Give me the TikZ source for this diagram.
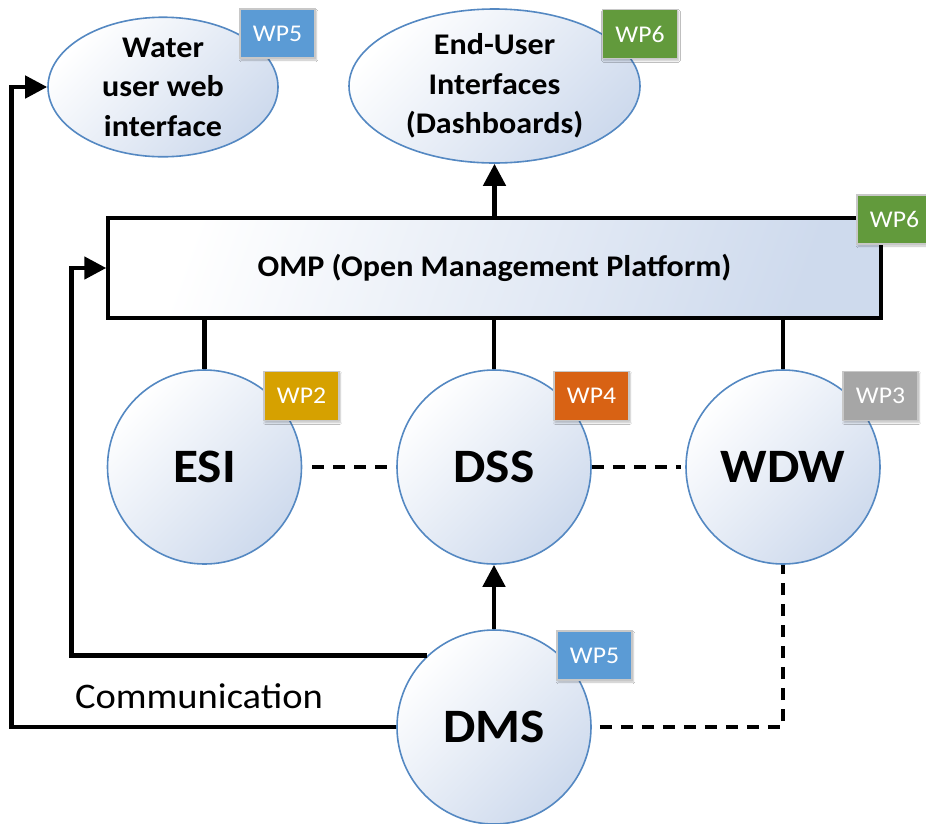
\documentclass[tikz,border=0pt]{standalone}
\usepackage{fontspec}
\setmainfont{Carlito}[FakeStretch=1.07]
\usetikzlibrary{shapes.geometric,arrows.meta,shadows.blur}

\definecolor{edgeblue}{RGB}{84,136,194}
\definecolor{shadeblue}{RGB}{206,218,237}
\definecolor{wpblue}{RGB}{91,155,213}
\definecolor{wpgreen}{RGB}{98,154,60}
\definecolor{wpgold}{RGB}{214,161,0}
\definecolor{wporange}{RGB}{216,98,20}
\definecolor{wpgrey}{RGB}{166,166,166}
\definecolor{wpedge}{RGB}{200,200,200}

\tikzset{
  softfill/.style={top color=white, bottom color=shadeblue, shading angle=45},
  module/.style={circle, draw=edgeblue, line width=1.6pt, softfill,
    minimum size=194pt, inner sep=0pt, font=\fontsize{48}{52}\selectfont\bfseries},
  portal/.style={ellipse, draw=edgeblue, line width=1.6pt, softfill,
    inner sep=0pt, align=center, font=\fontsize{30}{39.5}\selectfont\bfseries},
  platform/.style={rectangle, draw=black, line width=3.4pt,
    top color=white, bottom color=shadeblue, shading angle=70,
    minimum width=773pt, minimum height=100pt, inner sep=0pt,
    font=\fontsize{30}{34}\selectfont\bfseries},
  wptag/.style={rectangle, fill=#1, draw=wpedge, line width=1.8pt,
    minimum width=75pt, minimum height=49pt, inner sep=0pt, text=white,
    font=\fontsize{24}{28}\selectfont,
    blur shadow={shadow xshift=1pt, shadow yshift=-2pt, shadow blur steps=6, shadow opacity=25}},
  link/.style={line width=4.6pt, draw=black},
  flow/.style={link, -{Triangle[length=22pt,width=22pt]}},
  weaklink/.style={line width=4.2pt, draw=black, dash pattern=on 12pt off 9pt},
}

\begin{document}
\begin{tikzpicture}[x=1pt, y=-1pt]
  \clip (0,0) rectangle (926,823);
  \fill[white] (0,0) rectangle (926,823);

  % top-level interfaces
  \node[portal, minimum width=230pt, minimum height=124pt] (water) at (163,87)
    {Water\\user web\\interface};
  \node[portal, minimum width=291pt, minimum height=154pt] (enduser) at (494.5,86)
    {End-User\\Interfaces\\(Dashboards)};

  % platform
  \node[platform] (omp) at (494.5,268) {OMP (Open Management Platform)};

  % modules
  \node[module] (esi) at (204.5,467) {ESI};
  \node[module] (dss) at (494,467) {DSS};
  \node[module] (wdw) at (783,467) {WDW};
  \node[module] (dms) at (494,727) {DMS};

  % connectors
  \draw[flow] (omp.north -| enduser.south) -- (enduser.south);
  \draw[link] (omp.south -| esi.north) -- (esi.north);
  \draw[link] (omp.south -| dss.north) -- (dss.north);
  \draw[link] (omp.south -| wdw.north) -- (wdw.north);

  \draw[weaklink] ([xshift=10pt]esi.east) -- (dss.west);
  \draw[weaklink] (dss.east) -- ([xshift=-4pt]wdw.west);

  \draw[flow] (dms.north) -- (dss.south);
  \draw[flow] (dms.133) -- ++(-356,0) |- (omp.west);
  \draw[flow] (dms.west) -- ++(-385,0) |- (water.west);
  \draw[weaklink] ([xshift=8pt]dms.east) -| (wdw.south);

  \node[font=\fontsize{36}{40}\selectfont, anchor=base] (comm) at (199,708) {Communication};

  % work-package tags
  \node[wptag=wpblue] (tagwater) at (277.5,33.5) {WP5};
  \node[wptag=wpgreen] (tagend) at (640,34) {WP6};
  \node[wptag=wpgreen] (tagomp) at (894.5,219.5) {WP6};
  \node[wptag=wpgold] (tagesi) at (301.5,396) {WP2};
  \node[wptag=wporange] (tagdss) at (591.5,396) {WP4};
  \node[wptag=wpgrey] (tagwdw) at (880.5,396) {WP3};
  \node[wptag=wpblue] (tagdms) at (594.5,655.5) {WP5};
\end{tikzpicture}
\end{document}
